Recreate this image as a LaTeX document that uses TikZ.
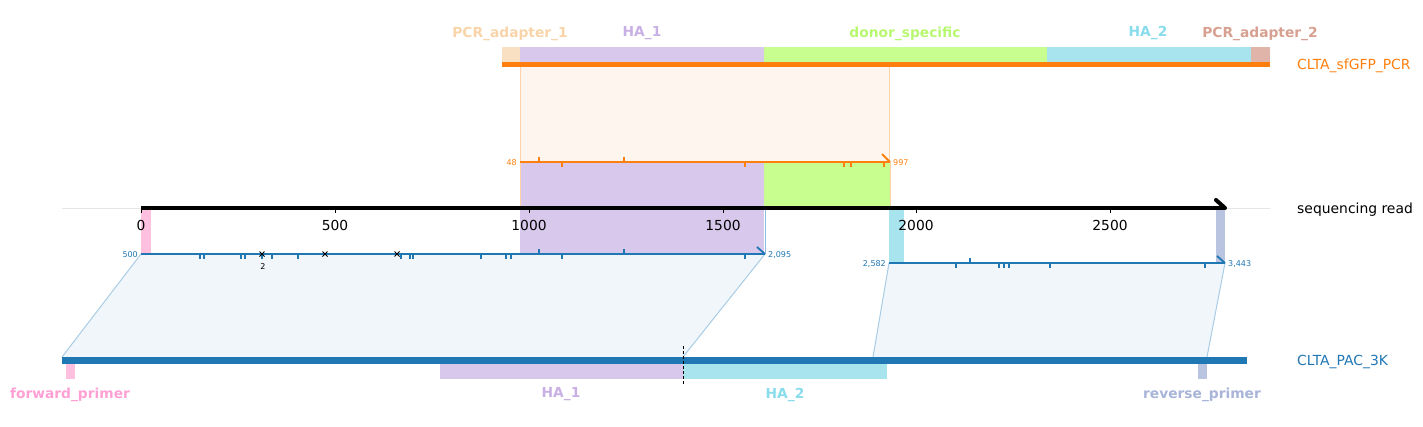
\documentclass[tikz,border=0pt]{standalone}
\usepackage{fontspec}
\setmainfont{DejaVu Sans}
\definecolor{orng}{HTML}{FF7F0E}
\definecolor{blu}{HTML}{1F77B4}
\definecolor{ofill}{HTML}{FEF5EE}
\definecolor{oedge}{HTML}{FFD2A8}
\definecolor{bfill}{HTML}{F0F6FA}
\definecolor{bedge}{HTML}{AACDE6}
\definecolor{pcrAf}{HTML}{F9E0C3}
\definecolor{pcrAl}{HTML}{F8D4A8}
\definecolor{haAf}{HTML}{D8C8EC}
\definecolor{haAl}{HTML}{C8B0E4}
\definecolor{donf}{HTML}{C8FE90}
\definecolor{donl}{HTML}{B8F870}
\definecolor{haBf}{HTML}{A8E4EE}
\definecolor{haBl}{HTML}{88DCEC}
\definecolor{pcrBf}{HTML}{E0B4A8}
\definecolor{pcrBl}{HTML}{D8A090}
\definecolor{fwdf}{HTML}{FFC0E0}
\definecolor{fwdl}{HTML}{FFA0D4}
\definecolor{revf}{HTML}{B8C4E0}
\definecolor{revl}{HTML}{A8B4D8}
\tikzset{
  flabel/.style={font=\fontsize{13.8}{14}\selectfont\bfseries, inner sep=0pt, anchor=center},
  rlabel/.style={font=\fontsize{13.9}{14}\selectfont, inner sep=0pt, anchor=west},
  ticklabel/.style={font=\fontsize{13.8}{14}\selectfont, inner sep=0pt, anchor=center},
  small/.style={font=\fontsize{8}{9}\selectfont, inner sep=0pt},
  oline/.style={draw=orng, line width=2pt},
  bline/.style={draw=blu, line width=1.8pt},
  otick/.style={draw=orng, line width=1.6pt},
  btick/.style={draw=blu, line width=1.6pt},
}
\begin{document}
\begin{tikzpicture}[x=1pt,y=-1pt]
\useasboundingbox (0,0) rectangle (1423,426);
% background grid line
\draw[color=black!10, line width=0.8pt] (62,208) -- (1270,208);

% ---- top projection (orange) ----
\fill[ofill] (520,67) -- (889,67) -- (889,162) -- (520,162) -- cycle;
\draw[oedge, line width=0.8pt] (520,67) -- (520,162) (889,67) -- (889,162);
% features projected on read
\fill[haAf] (520,162) rectangle (764,254);
\fill[donf] (764,162) rectangle (890,208);
\fill[fwdf] (141,208) rectangle (151,254);
\fill[haBf] (889,208) rectangle (904,263);
\fill[revf] (1216,208) rectangle (1225,263);
\draw[oedge, line width=0.8pt] (520,162) -- (520,208) (890,162) -- (890,208);
\draw[bedge!80!blu, line width=1pt] (765,208) -- (765,254);

% ---- bottom projections (blue) ----
\coordinate (b1a) at (141,254); \coordinate (b1b) at (765,254);
\coordinate (b1c) at (683,357); \coordinate (b1d) at (62,357);
\fill[bfill] (b1a) -- (b1b) -- (b1c) -- (b1d) -- cycle;
\draw[bedge, line width=1pt] (b1b) -- (b1c) (b1a) -- (b1d);
\coordinate (b2a) at (889,263); \coordinate (b2b) at (1225,263);
\coordinate (b2c) at (1207,357); \coordinate (b2d) at (873,357);
\fill[bfill] (b2a) -- (b2b) -- (b2c) -- (b2d) -- cycle;
\draw[bedge, line width=1pt] (b2b) -- (b2c) (b2a) -- (b2d);

% ---- top construct ----
\fill[pcrAf] (502,47) rectangle (520,62);
\fill[haAf] (520,47) rectangle (764,62);
\fill[donf] (764,47) rectangle (1047,62);
\fill[haBf] (1047,47) rectangle (1251,62);
\fill[pcrBf] (1251,47) rectangle (1270,62);
\fill[orng] (502,62) rectangle (1270,67);
\node[flabel, text=pcrAl] (lpcr1) at (510,33.5) {PCR\_adapter\_1};
\node[flabel, text=haAl] (lha1) at (642,33.5) {HA\_1};
\node[flabel, text=donl] (ldon) at (905,33.5) {donor\_specific};
\node[flabel, text=haBl] (lha2) at (1148,33.5) {HA\_2};
\node[flabel, text=pcrBl] (lpcr2) at (1260,33.5) {PCR\_adapter\_2};
\node[rlabel, text=orng] (lsf) at (1297,65.5) {CLTA\_sfGFP\_PCR};

% ---- orange alignment ----
\coordinate (o1) at (520,162); \coordinate (o2) at (890,162);
\draw[oline] (o1) -- (o2);
\draw[oline] (882,154) -- (o2);
\foreach \x in {539,624} \draw[otick] (\x,162) -- (\x,156.5);
\foreach \x in {562,745,844,851,884} \draw[otick] (\x,162) -- (\x,166.5);
\node[small, text=orng, anchor=east] (o48) at (517,162.5) {48};
\node[small, text=orng, anchor=west] (o997) at (893,162.5) {997};

% ---- axis ----
\coordinate (ax0) at (141,208); \coordinate (ax1) at (1225,208);
\draw[black, line width=4pt] (ax0) -- (ax1);
\draw[black, line width=4pt, line cap=round] (1216,200) -- (ax1);
\foreach \x/\l in {141/0,335/500,529/1000,723/1500,916/2000,1110/2500}{
  \draw[black, line width=1pt] (\x,208) -- (\x,213);
  \node[ticklabel] at (\x,225.5) {\l};
}
\node[rlabel, text=black] (lseq) at (1297,209.5) {sequencing read};

% ---- blue alignment 1 ----
\draw[bline] (b1a) -- (b1b);
\draw[bline] (757,247) -- (b1b);
\foreach \x in {539,624} \draw[btick] (\x,254) -- (\x,249);
\foreach \x in {200,204,241,245,262,272,298,401,410,413,481,506,511,562,745} \draw[btick] (\x,254) -- (\x,259);
\foreach \x in {262,325,397}{
  \draw[black, line width=0.9pt] (\x-2.5,251.5) -- (\x+2.5,256.5) (\x-2.5,256.5) -- (\x+2.5,251.5);
}
\node[small, text=black] (two) at (263,267) {2};
\node[small, text=blu, anchor=east] (l500) at (138,254.5) {500};
\node[small, text=blu, anchor=west] (l2095) at (768,254.5) {2,095};

% ---- blue alignment 2 ----
\draw[bline] (b2a) -- (b2b);
\draw[bline] (1217,256) -- (b2b);
\foreach \x in {970} \draw[btick] (\x,263) -- (\x,258);
\foreach \x in {956,999,1004,1009,1050,1205} \draw[btick] (\x,263) -- (\x,268);
\node[small, text=blu, anchor=east] (l2582) at (886,263.5) {2,582};
\node[small, text=blu, anchor=west] (l3443) at (1228,263.5) {3,443};

% ---- bottom construct ----
\fill[blu] (62,357) rectangle (1247,364);
\fill[fwdf] (66,364) rectangle (75,379);
\fill[haAf] (440,364) rectangle (683,379);
\fill[haBf] (683,364) rectangle (887,379);
\fill[revf] (1198,364) rectangle (1207,379);
\draw[black, line width=1pt, dash pattern=on 3pt off 2pt] (683,346) -- (683,384);
\node[flabel, text=fwdl] (lfwd) at (70,394.5) {forward\_primer};
\node[flabel, text=haAl] (lbha1) at (561,394.5) {HA\_1};
\node[flabel, text=haBl] (lbha2) at (785,394.5) {HA\_2};
\node[flabel, text=revl] (lrev) at (1202,394.5) {reverse\_primer};
\node[rlabel, text=blu] (lpac) at (1297,361.5) {CLTA\_PAC\_3K};
\end{tikzpicture}
\end{document}
